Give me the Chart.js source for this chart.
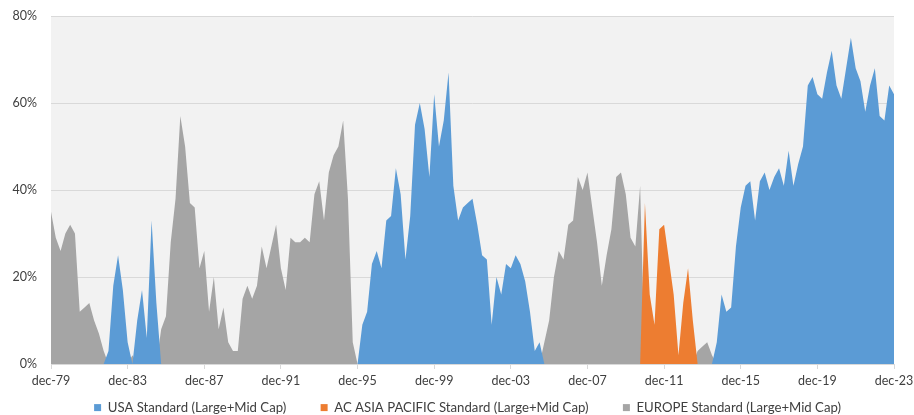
<!DOCTYPE html>
<html>
<head>
<meta charset="utf-8">
<script src="https://cdn.jsdelivr.net/npm/chart.js@4.4.0/dist/chart.umd.min.js"></script>
<style>
html,body{margin:0;padding:0;background:#fff;}
#wrap{width:914px;height:415px;}
</style>
</head>
<body>
<div id="wrap"><canvas id="chart"></canvas></div>
<script>
// quarterly readings from dec-79 to dec-23 (margin of the leading region, %)
const startYear=1979;
const monthNames=['dec','mar','jun','sep'];
const margin=[
 35,29,26,30,32,30,12,13,14,10,7,3,           // dec-79 .. sep-82
 3,18,25,17,5,2,10,17,6,33,14,8,              // dec-82 .. sep-85
 11,28,38,57,50,37,36,22,26,12,20,8,          // dec-85 .. sep-88
 13,5,3,3,15,18,15,18,27,22,27,32,            // dec-88 .. sep-91
 22,17,29,28,28,29,28,39,42,33,44,48,         // dec-91 .. sep-94
 50,56,38,5,0,9,12,23,26,22,33,34,            // dec-94 .. sep-97
 45,39,24,34,55,60,54,43,62,50,56,67,         // dec-97 .. sep-00
 41,33,36,37,38,32,25,24,9,20,16,23,          // dec-00 .. sep-03
 22,25,23,19,12,3,5,5,10,20,26,24,            // dec-03 .. sep-06
 32,33,43,40,44,36,28,18,25,31,43,44,         // dec-06 .. sep-09
 39,29,27,41,37,16,9,31,32,24,16,2,           // dec-09 .. sep-12
 14,22,10,3,4,5,2,5,16,12,13,27,              // dec-12 .. sep-15
 36,41,42,33,42,44,40,43,45,41,49,41,         // dec-15 .. sep-18
 46,50,64,66,62,61,67,72,64,61,68,75,         // dec-18 .. sep-21
 68,65,58,64,68,57,56,64,62                   // dec-21 .. dec-23
];
// which region leads each quarter: U = USA, A = AC Asia Pacific, E = Europe
const leader=
 'EEEEEEEEEEEE'+'UUUUUEUUUUUE'+'EEEEEEEEEEEE'+'EEEEEEEEEEEE'+'EEEEEEEEEEEE'+
 'EEEEEUUUUUUU'+'UUUUUUUUUUUU'+'UUUUUUUUUUUU'+'UUUUUUUEEEEE'+'EEEEEEEEEEEE'+
 'EEEEAAAAAAAA'+'AAAEEEEUUUUU'+'UUUUUUUUUUUU'+'UUUUUUUUUUUU'+'UUUUUUUUU';

const seriesNames=['USA Standard (Large+Mid Cap)','AC ASIA PACIFIC Standard (Large+Mid Cap)','EUROPE Standard (Large+Mid Cap)'];
const seriesCodes=['U','A','E'];
const seriesColors=['#5b9bd5','#ed7d31','#a5a5a5'];
const yTicks=[0,20,40,60,80];

const labels=margin.map(function(v,i){
  var yr=startYear+Math.floor(i/4)+(i%4?1:0);
  return monthNames[i%4]+'-'+String(yr%100).padStart(2,'0');
});

var datasets=seriesCodes.map(function(code,s){
  return {
    label:seriesNames[s],
    data:margin.map(function(v,i){return {x:i,y:leader[i]===code?v:0};}),
    backgroundColor:seriesColors[s],
    borderColor:seriesColors[s],
    borderWidth:0,
    pointRadius:0,
    fill:'origin',
    tension:0
  };
});

// grey plot background
const plotBg={
  id:'plotBg',
  beforeDraw:function(chart){
    var a=chart.chartArea, c=chart.ctx;
    c.save();
    c.fillStyle='#f2f2f2';
    c.fillRect(a.left,a.top,a.right-a.left,a.bottom-a.top);
    c.restore();
  }
};

Chart.defaults.font.family='Lato, "Liberation Sans", sans-serif';
Chart.defaults.font.size=12;
Chart.defaults.color='#404040';

const ctx=document.getElementById('chart').getContext('2d');
const myChart=new Chart(ctx,{
  type:'line',
  data:{datasets:datasets},
  plugins:[plotBg],
  options:{
    responsive:true,
    maintainAspectRatio:false,
    animation:false,
    layout:{padding:{top:16,right:20,left:0,bottom:0}},
    plugins:{
      legend:{
        position:'bottom',
        fullSize:false,
        maxHeight:22,
        labels:{
          boxWidth:7,boxHeight:7,padding:8,font:{size:13.2},
          generateLabels:function(chart){
            var items=Chart.defaults.plugins.legend.labels.generateLabels(chart);
            items.forEach(function(it,i){
              it.lineWidth=0;
              if(i<items.length-1) it.text=it.text+'\u2003\u2003\u2002';
              else it.text=it.text+'\u2003';
            });
            return items;
          }
        }
      },
      tooltip:{enabled:false}
    },
    scales:{
      x:{
        type:'linear',
        min:0,max:labels.length-1,
        ticks:{stepSize:16,autoSkip:false,maxTicksLimit:30,maxRotation:0,padding:4,font:{size:12.5},
          callback:function(v){return labels[v];}},
        grid:{drawOnChartArea:false,tickLength:5,color:'#d9d9d9'},
        border:{display:true,color:'#d9d9d9'},
        afterFit:function(s){s.height=29;s.paddingLeft=0;s.paddingRight=0;}
      },
      y:{
        min:0,max:80,
        afterBuildTicks:function(s){s.ticks=yTicks.map(function(v){return {value:v};});},
        ticks:{padding:14,font:{size:12.5},callback:function(v){return v+'%';}},
        grid:{color:'#d9d9d9',drawTicks:false},
        border:{display:false},
        afterFit:function(s){s.width=51;s.paddingTop=0;s.paddingBottom=0;}
      }
    }
  }
});
</script>
</body>
</html>
